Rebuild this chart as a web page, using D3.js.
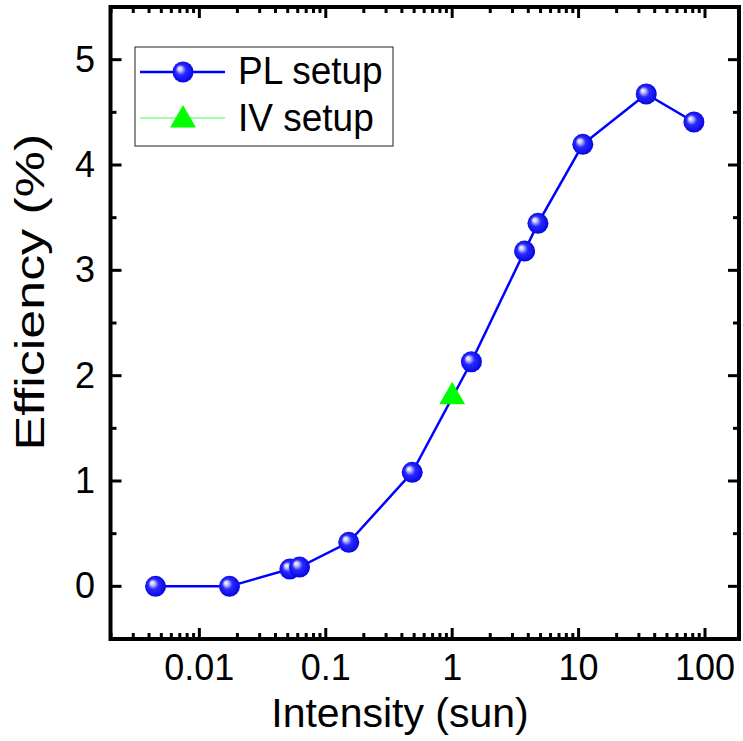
<!DOCTYPE html>
<html>
<head>
<meta charset="utf-8">
<script src="https://cdn.jsdelivr.net/npm/d3@7"></script>
<style>
  html, body { margin: 0; padding: 0; background: #fff; }
  svg { display: block; }
  text { font-family: "Liberation Sans", Arial, sans-serif; fill: #000; }
</style>
</head>
<body>
<svg id="chart" width="743" height="741"></svg>
<script>
// Efficiency versus illumination intensity
const plIntensity = [0.0045, 0.0173, 0.052, 0.062, 0.152, 0.483, 1.42, 3.74, 4.77, 10.8, 34.3, 81.7];
const plEfficiency = [0.0, 0.0, 0.164, 0.183, 0.418, 1.082, 2.132, 3.183, 3.446, 4.196, 4.674, 4.408];
const ivIntensity = [1.0];
const ivEfficiency = [1.8];

const xTickValues = [0.01, 0.1, 1, 10, 100];
const xTickLabels = ["0.01", "0.1", "1", "10", "100"];
const yTickValues = [0, 1, 2, 3, 4, 5];
const seriesNames = ["PL setup", "IV setup"];

const svg = d3.select("#chart");
const plot = { left: 110.5, right: 739, top: 7, bottom: 639 };

const x = d3.scaleLog()
  .domain([Math.pow(10, -2.703), Math.pow(10, 2.269)])
  .range([plot.left, plot.right]);
const y = d3.scaleLinear()
  .domain([-0.5, 5.5])
  .range([plot.bottom, plot.top]);

// Sphere-like fill for the circle markers
const defs = svg.append("defs");
const grad = defs.append("radialGradient")
  .attr("id", "ball")
  .attr("cx", "50%").attr("cy", "50%").attr("r", "55%")
  .attr("fx", "32%").attr("fy", "32%");
grad.append("stop").attr("offset", "0%").attr("stop-color", "#ffffff");
grad.append("stop").attr("offset", "18%").attr("stop-color", "#c8c8ff");
grad.append("stop").attr("offset", "45%").attr("stop-color", "#2a2aff");
grad.append("stop").attr("offset", "100%").attr("stop-color", "#0000e0");

// Minor ticks
const minorX = [];
for (let e = -3; e <= 2; e++) {
  for (let m = 2; m <= 9; m++) {
    const v = m * Math.pow(10, e);
    if (v > x.domain()[0] && v < x.domain()[1]) minorX.push(v);
  }
}
const minorY = [0.5, 1.5, 2.5, 3.5, 4.5];

const axisG = svg.append("g").attr("stroke", "#000").attr("stroke-width", 3);
const majorLen = 11, minorLen = 6;

// bottom and top ticks
xTickValues.forEach(v => {
  axisG.append("line").attr("x1", x(v)).attr("x2", x(v)).attr("y1", plot.bottom).attr("y2", plot.bottom - majorLen);
  axisG.append("line").attr("x1", x(v)).attr("x2", x(v)).attr("y1", plot.top).attr("y2", plot.top + majorLen);
});
minorX.forEach(v => {
  axisG.append("line").attr("x1", x(v)).attr("x2", x(v)).attr("y1", plot.bottom).attr("y2", plot.bottom - minorLen);
  axisG.append("line").attr("x1", x(v)).attr("x2", x(v)).attr("y1", plot.top).attr("y2", plot.top + minorLen);
});
// left and right ticks
yTickValues.forEach(v => {
  axisG.append("line").attr("y1", y(v)).attr("y2", y(v)).attr("x1", plot.left).attr("x2", plot.left + majorLen);
  axisG.append("line").attr("y1", y(v)).attr("y2", y(v)).attr("x1", plot.right).attr("x2", plot.right - majorLen);
});
minorY.forEach(v => {
  axisG.append("line").attr("y1", y(v)).attr("y2", y(v)).attr("x1", plot.left).attr("x2", plot.left + minorLen);
  axisG.append("line").attr("y1", y(v)).attr("y2", y(v)).attr("x1", plot.right).attr("x2", plot.right - minorLen);
});

// frame
svg.append("rect")
  .attr("x", plot.left).attr("y", plot.top)
  .attr("width", plot.right - plot.left).attr("height", plot.bottom - plot.top)
  .attr("fill", "none").attr("stroke", "#000").attr("stroke-width", 4);

// tick labels
svg.append("g").selectAll("text").data(xTickValues).join("text")
  .attr("x", d => x(d)).attr("y", 680)
  .attr("text-anchor", "middle")
  .attr("font-size", 36)
  .text((d, i) => xTickLabels[i]);
svg.append("g").selectAll("text").data(yTickValues).join("text")
  .attr("x", 95).attr("y", d => y(d) + 12)
  .attr("text-anchor", "end")
  .attr("font-size", 36)
  .text(d => d);

// axis titles
svg.append("text")
  .attr("x", 400).attr("y", 727)
  .attr("text-anchor", "middle")
  .attr("font-size", 41)
  .text("Intensity (sun)");
svg.append("text")
  .attr("transform", "translate(44,292) rotate(-90) scale(1.3,1)")
  .attr("text-anchor", "middle")
  .attr("font-size", 40)
  .text("Efficiency (%)");

// PL series line and markers
const line = d3.line().x(d => x(d[0])).y(d => y(d[1]));
const plData = plIntensity.map((v, i) => [v, plEfficiency[i]]);
svg.append("path")
  .datum(plData)
  .attr("d", line)
  .attr("fill", "none")
  .attr("stroke", "#0000ff")
  .attr("stroke-width", 2.5);
svg.append("g").selectAll("circle").data(plData).join("circle")
  .attr("cx", d => x(d[0])).attr("cy", d => y(d[1]))
  .attr("r", 10.5)
  .attr("fill", "url(#ball)");

// IV series marker (triangle)
const tri = d3.symbol().type(d3.symbolTriangle).size(290);
const ivData = ivIntensity.map((v, i) => [v, ivEfficiency[i]]);
svg.append("g").selectAll("path").data(ivData).join("path")
  .attr("d", tri)
  .attr("transform", d => `translate(${x(d[0])},${y(d[1])})`)
  .attr("fill", "#00ff00");

// legend
const lg = svg.append("g");
lg.append("rect")
  .attr("x", 135).attr("y", 47).attr("width", 258).attr("height", 99)
  .attr("fill", "#fff").attr("stroke", "#444").attr("stroke-width", 1.2);
lg.append("line").attr("x1", 140).attr("x2", 225).attr("y1", 72).attr("y2", 72)
  .attr("stroke", "#0000ff").attr("stroke-width", 2.5);
lg.append("circle").attr("cx", 183).attr("cy", 72).attr("r", 10.5).attr("fill", "url(#ball)");
lg.append("text").attr("transform", "translate(238,84) scale(1,1.05)").attr("font-size", 37).text(seriesNames[0]);
lg.append("line").attr("x1", 140).attr("x2", 225).attr("y1", 118).attr("y2", 118)
  .attr("stroke", "#80ff80").attr("stroke-width", 1.5);
lg.append("path").attr("d", tri).attr("transform", "translate(183,120)").attr("fill", "#00ff00");
lg.append("text").attr("transform", "translate(238,131) scale(1,1.05)").attr("font-size", 37).text(seriesNames[1]);
</script>
</body>
</html>
